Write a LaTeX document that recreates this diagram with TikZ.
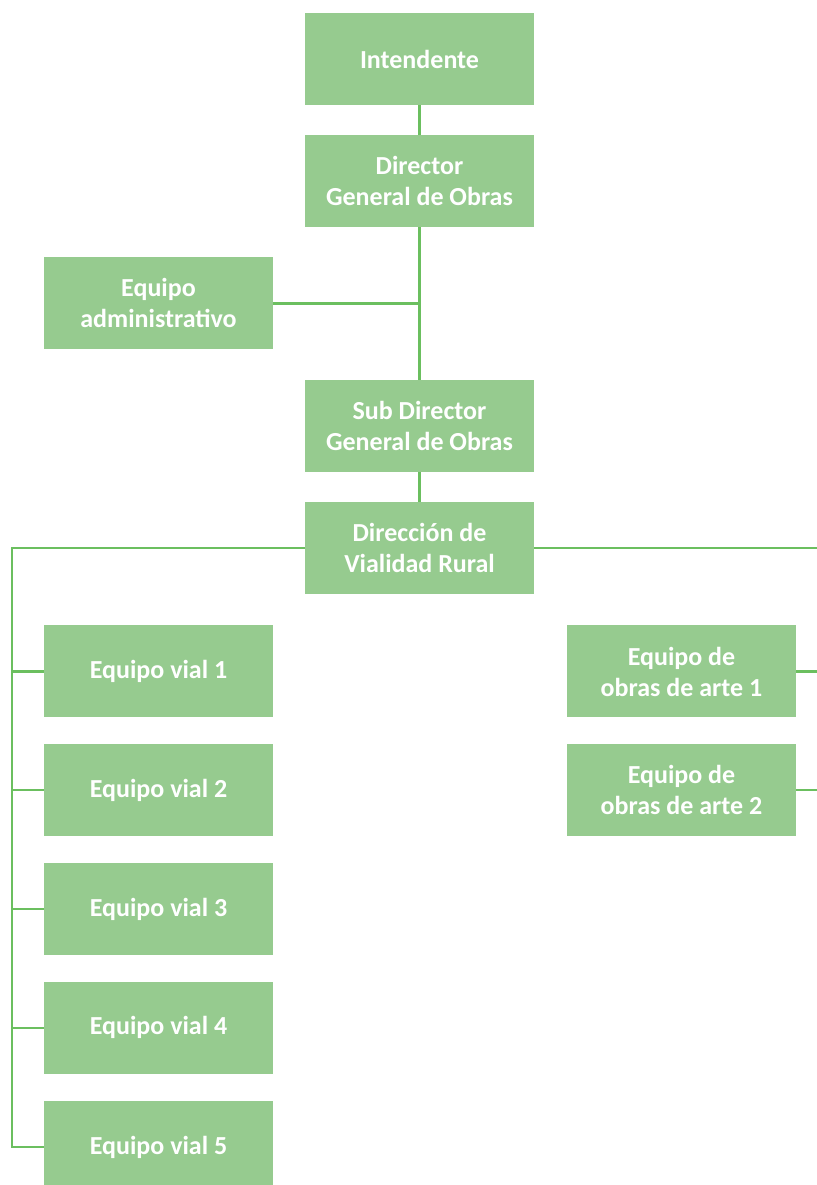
\documentclass[tikz,border=0pt]{standalone}
\usepackage{fontspec}
\setmainfont{Carlito}
\usepackage{xcolor}
\usepackage{tikz}
\usetikzlibrary{positioning, calc}

\definecolor{boxgreen}{HTML}{96CB8F}
\definecolor{linegreen}{HTML}{6BBF5F}

\begin{document}
\begin{tikzpicture}[
    node distance=22pt,
    box/.style={rectangle, fill=boxgreen, minimum width=171.75pt, minimum height=69pt, align=center, text=white, font=\fontsize{19.5}{23.25}\selectfont\bfseries},
    link/.style={draw=linegreen, line width=1.8pt}
]

\useasboundingbox (-314.625pt,44.25pt) rectangle (298.125pt,-844.5pt);

\node[box] (intendente) at (0,0) {Intendente};
\node[box, below=of intendente] (director) {Director\\General de Obras};
\node[box, below=114.5pt of director] (subdirector) {Sub Director\\General de Obras};
\node[box] (admin) at ([xshift=-195.75pt]$(director)!0.5!(subdirector)$) {Equipo\\administrativo};
\node[box, below=22.25pt of subdirector] (vialidad) {Dirección de\\Vialidad Rural};

\node[box, below=23pt of vialidad, xshift=-195.75pt] (vial1) {Equipo vial 1};
\node[box, below=19.5pt of vial1] (vial2) {Equipo vial 2};
\node[box, below=20pt of vial2] (vial3) {Equipo vial 3};
\node[box, below=19.5pt of vial3] (vial4) {Equipo vial 4};
\node[box, below=20pt of vial4] (vial5) {Equipo vial 5};

\node[box, below=23pt of vialidad, xshift=196.5pt] (arte1) {Equipo de\\obras de arte 1};
\node[box, below=19.5pt of arte1] (arte2) {Equipo de\\obras de arte 2};

% ramales de los costados
\coordinate (leftbus) at (-305.6pt,0);
\coordinate (rightbus) at (300pt,0);

\draw[link] (intendente) -- (director);
\draw[link] (director) -- (subdirector);
\draw[link] (admin.east) -- (admin.east -| director);
\draw[link] (subdirector) -- (vialidad);

\draw[link] (vialidad.west) -- (vialidad.west -| leftbus) |- (vial5.west);
\foreach \n in {1,2,3,4}
    \draw[link] (vial\n.west) -- (vial\n.west -| leftbus);

\draw[link] (vialidad.east) -- (vialidad.east -| rightbus);
\draw[link] (arte1.east) -- (arte1.east -| rightbus);
\draw[link] (arte2.east) -- (arte2.east -| rightbus);

\end{tikzpicture}
\end{document}
